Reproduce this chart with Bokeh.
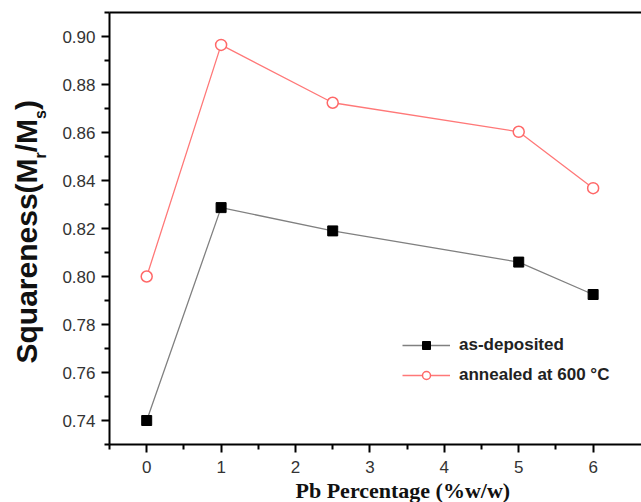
import math
from bokeh.plotting import figure
from bokeh.layouts import row
from bokeh.models import FixedTicker, LinearAxis, Legend, LegendItem, Range1d, Title
from bokeh.core.properties import value
from bokeh.embed import file_html
from bokeh.resources import INLINE

# ---- data ----
pb_percentage = [0, 1, 2.5, 5, 6]
as_deposited = [0.740, 0.8287, 0.8190, 0.8060, 0.7925]
annealed_600 = [0.800, 0.8965, 0.8724, 0.8603, 0.8368]

x_ticks = [0, 1, 2, 3, 4, 5, 6]
x_minor_ticks = [-0.5, 0.5, 1.5, 2.5, 3.5, 4.5, 5.5]
y_ticks = [0.74, 0.76, 0.78, 0.80, 0.82, 0.84, 0.86, 0.88, 0.90]
y_tick_labels = ["0.74", "0.76", "0.78", "0.80", "0.82", "0.84", "0.86", "0.88", "0.90"]
y_minor_ticks = [0.73, 0.75, 0.77, 0.79, 0.81, 0.83, 0.85, 0.87, 0.89, 0.91]

series_names = ["as-deposited", "annealed at 600 °C"]
x_title = "Pb Percentage (%w/w)"
y_title_parts = ["Squareness(M", "r", "/M", "s", ")"]   # r and s are subscripts

# ---- layout sizes ----
W, H = 641, 502
TITLE_W = 50          # strip holding the rotated y title
MAIN_W = W - TITLE_W
FRAME_TOP, FRAME_BOTTOM = 12, 444
X0, X1 = -0.5, 6.65
Y0, Y1 = 0.73, 0.91

p = figure(width=MAIN_W, height=H, x_range=Range1d(X0, X1), y_range=Range1d(Y0, Y1),
           output_backend="svg", toolbar_location=None,
           min_border_left=109 - TITLE_W, min_border_right=0,
           min_border_top=FRAME_TOP, min_border_bottom=H - FRAME_BOTTOM)
p.outline_line_color = None
p.grid.visible = False
p.background_fill_color = "white"
p.border_fill_color = "white"

for ax in (p.xaxis[0], p.yaxis[0]):
    ax.axis_line_width = 2
    ax.axis_line_color = "black"
    ax.major_tick_line_width = 2
    ax.minor_tick_line_width = 2
    ax.major_tick_in = 0
    ax.major_tick_out = 8
    ax.minor_tick_in = 0
    ax.minor_tick_out = 5
    ax.major_label_text_font = "Liberation Sans"
    ax.major_label_text_font_size = "17px"
    ax.major_label_text_color = "#333333"

p.xaxis[0].ticker = FixedTicker(ticks=x_ticks, minor_ticks=x_minor_ticks)
p.xaxis[0].major_label_standoff = 8
p.yaxis[0].ticker = FixedTicker(ticks=y_ticks, minor_ticks=y_minor_ticks)
p.yaxis[0].major_label_overrides = {t: l for t, l in zip(y_ticks, y_tick_labels)}
p.yaxis[0].major_label_standoff = 6

top_axis = LinearAxis(ticker=FixedTicker(ticks=[]), axis_line_width=2,
                      major_tick_out=0, minor_tick_out=0, major_label_standoff=0,
                      major_label_text_font_size="0px")
p.add_layout(top_axis, "above")

# ---- x title as a left-aligned Title below the x axis ----
p.add_layout(Title(text=x_title, align="left", offset=295 - 109, standoff=0,
                   text_font="Liberation Serif", text_font_style="bold",
                   text_font_size="22px", text_color="#111111"), "below")

# ---- series ----
l1 = p.line(pb_percentage, as_deposited, line_color="#808080", line_width=1.3)
s1 = p.scatter(pb_percentage, as_deposited, marker="square", size=10,
               fill_color="black", line_color="black")
l2 = p.line(pb_percentage, annealed_600, line_color="#ff7878", line_width=1.3)
s2 = p.scatter(pb_percentage, annealed_600, marker="circle", size=11,
               fill_color="white", line_color="#ff6868", line_width=1.5)

legend = Legend(items=[LegendItem(label=series_names[0], renderers=[l1, s1]),
                       LegendItem(label=series_names[1], renderers=[l2, s2])],
                location=(293, 59), padding=0, margin=0, spacing=10,
                glyph_width=48, glyph_height=20, label_height=20, label_standoff=9,
                border_line_color=None, background_fill_alpha=0,
                label_text_font="Liberation Sans", label_text_font_style="bold",
                label_text_font_size="17px", label_text_color="#222222")
p.add_layout(legend)

# ---- y title strip (rotated, with subscripts) ----
# In a row, the strip's frame is aligned with the main frame (canvas y 12..444),
# so its y range is chosen to make data y equal to canvas pixels.
left = figure(width=TITLE_W, height=H, x_range=Range1d(0, TITLE_W),
              y_range=Range1d(FRAME_BOTTOM, FRAME_TOP),
              output_backend="svg", toolbar_location=None, x_axis_type=None, y_axis_type=None,
              min_border_left=0, min_border_right=0,
              min_border_top=FRAME_TOP, min_border_bottom=H - FRAME_BOTTOM)
left.outline_line_color = None
left.grid.visible = False
left.border_fill_color = "white"
left.background_fill_color = "white"

main_size, sub_size = 30, 16
em_widths = [6.835, 0.389, 1.111, 0.556, 0.333]     # Arial-bold advance widths
is_sub = [False, True, False, True, False]
pos = 363.0
for txt, em, sub in zip(y_title_parts, em_widths, is_sub):
    size = sub_size if sub else main_size
    left.text(x=[40 if sub else 26], y=[pos], text=[txt], angle=math.pi / 2,
              text_align="left", text_baseline="alphabetic",
              text_font=value("Liberation Sans"), text_font_style="bold",
              text_font_size=f"{size}px", text_color="#111111")
    pos -= em * size

layout = row(left, p, spacing=0)
open("out.html", "w").write(file_html(layout, INLINE))
